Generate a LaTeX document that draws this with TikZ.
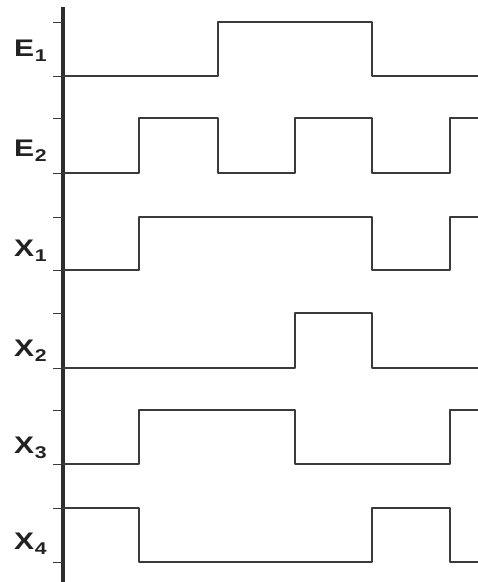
\documentclass[tikz,border=0pt]{standalone}
\usepackage{fontspec}
\setmainfont{Liberation Sans}
\definecolor{sig}{HTML}{3A3A3A}
\definecolor{lab}{HTML}{222222}
\newcommand{\sublabel}[2]{\scalebox{1.25}[1]{\fontsize{24}{24}\selectfont\bfseries #1\kern0.5pt\raisebox{-5pt}{\fontsize{17}{17}\selectfont #2}}}
\begin{document}
\begin{tikzpicture}[x=1pt,y=-1pt,
  signal/.style={draw=sig,line width=2.6pt,line join=round},
  axisline/.style={draw=sig!80!black,line width=3.4pt},
  tickmark/.style={draw=sig,line width=1pt},
  siglabel/.style={anchor=base west,inner sep=0pt,text=lab}]
\useasboundingbox (0,0) rectangle (478,582);
% axis
\draw[axisline] (63,7) -- (63,582);
% ticks
\foreach \y in {22,76,118,173,217,270,313,368,410,464,508,562}
  \draw[tickmark] (53,\y) -- (63,\y);
% labels
\node[siglabel] (le1) at (14,56) {\sublabel{E}{1}};
\node[siglabel] (le2) at (14,156) {\sublabel{E}{2}};
\node[siglabel] (lx1) at (14,256) {\sublabel{X}{1}};
\node[siglabel] (lx2) at (14,356) {\sublabel{X}{2}};
\node[siglabel] (lx3) at (14,453) {\sublabel{X}{3}};
\node[siglabel] (lx4) at (14,549) {\sublabel{X}{4}};
% signals
\draw[signal] (63,76) -- (218,76) -- (218,22) -- (372,22) -- (372,76) -- (478,76);
\draw[signal] (63,173) -- (139,173) -- (139,118) -- (218,118) -- (218,173) -- (295,173) -- (295,118) -- (372,118) -- (372,173) -- (450,173) -- (450,118) -- (478,118);
\draw[signal] (63,270) -- (139,270) -- (139,217) -- (372,217) -- (372,270) -- (450,270) -- (450,217) -- (478,217);
\draw[signal] (63,368) -- (295,368) -- (295,313) -- (372,313) -- (372,368) -- (478,368);
\draw[signal] (63,464) -- (139,464) -- (139,410) -- (295,410) -- (295,464) -- (450,464) -- (450,410) -- (478,410);
\draw[signal] (63,508) -- (139,508) -- (139,562) -- (372,562) -- (372,508) -- (450,508) -- (450,562) -- (478,562);
\end{tikzpicture}
\end{document}
